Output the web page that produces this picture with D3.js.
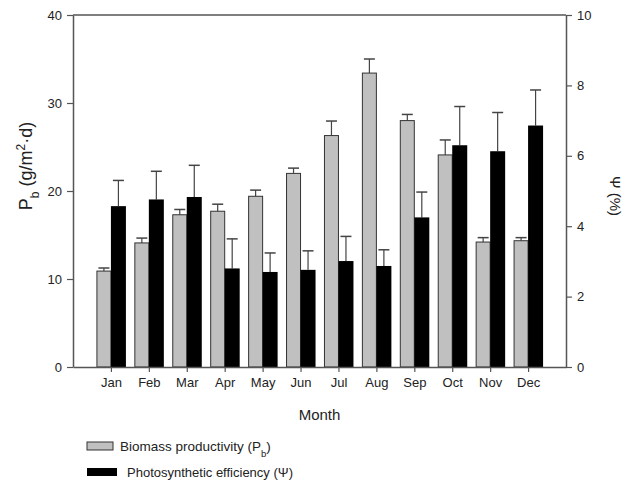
<!DOCTYPE html>
<html>
<head>
<meta charset="utf-8">
<script src="https://cdn.jsdelivr.net/npm/d3@7/dist/d3.min.js"></script>
<style>
  body { margin: 0; background: #fff; }
  text { font-family: "Liberation Sans", Arial, sans-serif; fill: #222; }
</style>
</head>
<body>
<div id="chart"></div>
<script>
// data
var months = ["Jan","Feb","Mar","Apr","May","Jun","Jul","Aug","Sep","Oct","Nov","Dec"];
var biomass = [10.9, 14.1, 17.3, 17.7, 19.4, 22.0, 26.3, 33.4, 28.0, 24.1, 14.2, 14.35];
var biomassErr = [0.35, 0.55, 0.6, 0.8, 0.7, 0.6, 1.65, 1.6, 0.7, 1.7, 0.5, 0.35];
var efficiency = [4.57, 4.76, 4.83, 2.80, 2.70, 2.76, 3.01, 2.87, 4.25, 6.30, 6.13, 6.86];
var efficiencyErr = [0.73, 0.80, 0.90, 0.84, 0.54, 0.54, 0.70, 0.46, 0.72, 1.10, 1.10, 1.01];
var leftTicks = [0, 10, 20, 30, 40];
var rightTicks = [0, 2, 4, 6, 8, 10];

var width = 628, height = 489;
var margin = {top: 15, right: 62, bottom: 122, left: 73};
var w = width - margin.left - margin.right;
var h = height - margin.top - margin.bottom;
var axisColor = "#555";

var svg = d3.select("#chart").append("svg")
    .attr("width", width)
    .attr("height", height);

var g = svg.append("g")
    .attr("transform", "translate(" + margin.left + "," + margin.top + ")");

var x = d3.scalePoint().domain(months).range([0, w]).padding(1);
var yLeft = d3.scaleLinear().domain([0, 40]).range([h, 0]);
var yRight = d3.scaleLinear().domain([0, 10]).range([h, 0]);
var barW = 14;

//top border line
g.append("line")
    .attr("x1", 0).attr("x2", w)
    .attr("y1", 0).attr("y2", 0)
    .attr("stroke", axisColor).attr("stroke-width", 1.5);

//error bars are drawn first so the bar sits on top of the stem
function errorBars(cls, vals, errs, scale, offset) {
    var eg = g.append("g").attr("class", cls);
    months.forEach(function(m, i) {
        var cx = x(m) + offset;
        eg.append("line")
            .attr("x1", cx).attr("x2", cx)
            .attr("y1", scale(vals[i])).attr("y2", scale(vals[i] + errs[i]))
            .attr("stroke", "#444").attr("stroke-width", 1.2);
        eg.append("line")
            .attr("x1", cx - 5.5).attr("x2", cx + 5.5)
            .attr("y1", scale(vals[i] + errs[i])).attr("y2", scale(vals[i] + errs[i]))
            .attr("stroke", "#444").attr("stroke-width", 1.5);
    });
}
errorBars("errBiomass", biomass, biomassErr, yLeft, -barW / 2);
errorBars("errEff", efficiency, efficiencyErr, yRight, barW / 2 + 0.5);

g.append("g").selectAll("rect")
    .data(biomass)
    .enter().append("rect")
    .attr("x", function(d, i) { return x(months[i]) - barW; })
    .attr("y", function(d) { return yLeft(d); })
    .attr("width", barW)
    .attr("height", function(d) { return h - yLeft(d); })
    .attr("fill", "#c0c0c0")
    .attr("stroke", "#333")
    .attr("stroke-width", 1);

g.append("g").selectAll("rect")
    .data(efficiency)
    .enter().append("rect")
    .attr("x", function(d, i) { return x(months[i]); })
    .attr("y", function(d) { return yRight(d); })
    .attr("width", barW + 1)
    .attr("height", function(d) { return h - yRight(d); })
    .attr("fill", "#000");

//axes
var xAxis = g.append("g")
    .attr("transform", "translate(0," + h + ")")
    .call(d3.axisBottom(x).tickSize(5).tickSizeOuter(0).tickPadding(6));
var leftAxis = g.append("g")
    .call(d3.axisLeft(yLeft).tickValues(leftTicks).tickSize(6).tickSizeOuter(0).tickPadding(5));
var rightAxis = g.append("g")
    .attr("transform", "translate(" + w + ",0)")
    .call(d3.axisRight(yRight).tickValues(rightTicks).tickSize(6).tickSizeOuter(0).tickPadding(5));

[xAxis, leftAxis, rightAxis].forEach(function(a) {
    a.select(".domain").attr("stroke", axisColor).attr("stroke-width", 1.5);
    a.selectAll(".tick line").attr("stroke", axisColor).attr("stroke-width", 1.2);
    a.selectAll(".tick text").style("font-size", "13px").attr("fill", "#222")
        .style("font-family", "'Liberation Sans', Arial, sans-serif");
});

//axis titles
g.append("text")
    .attr("x", w / 2).attr("y", h + 53)
    .attr("text-anchor", "middle")
    .style("font-size", "15px")
    .text("Month");

var yl = g.append("text")
    .attr("transform", "translate(-41,151) rotate(-90)")
    .attr("text-anchor", "middle")
    .style("font-size", "18px");
yl.append("tspan").text("P");
yl.append("tspan").attr("baseline-shift", "sub").style("font-size", "12px").text("b");
yl.append("tspan").text(" (g/m");
yl.append("tspan").attr("baseline-shift", "super").style("font-size", "12px").text("2");
yl.append("tspan").text("·d)");

g.append("text")
    .attr("transform", "translate(" + (w + 44) + ",181) rotate(90)")
    .attr("text-anchor", "middle")
    .style("font-size", "15px")
    .text("Ψ (%)");

//legend
var legend = svg.append("g");
legend.append("rect")
    .attr("x", 87).attr("y", 442).attr("width", 26).attr("height", 8)
    .attr("fill", "#c0c0c0").attr("stroke", "#333");
var lt1 = legend.append("text")
    .attr("x", 120).attr("y", 451)
    .style("font-size", "13.5px");
lt1.append("tspan").text("Biomass productivity (P");
lt1.append("tspan").attr("baseline-shift", "sub").style("font-size", "9.5px").text("b");
lt1.append("tspan").text(")");

legend.append("rect")
    .attr("x", 87).attr("y", 468).attr("width", 30).attr("height", 8)
    .attr("fill", "#000");
legend.append("text")
    .attr("x", 127).attr("y", 477)
    .style("font-size", "13px")
    .text("Photosynthetic efficiency (Ψ)");
</script>
</body>
</html>
